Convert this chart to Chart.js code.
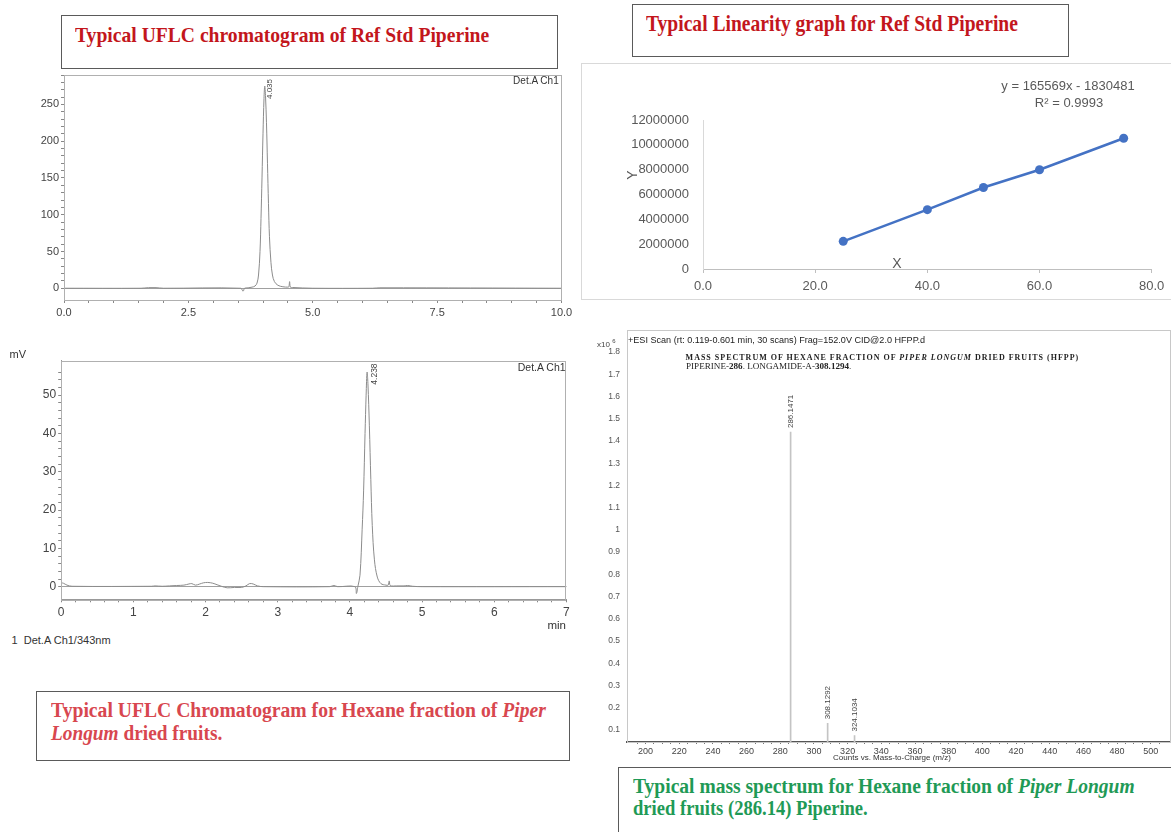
<!DOCTYPE html>
<html>
<head>
<meta charset="utf-8">
<script src="https://cdn.jsdelivr.net/npm/chart.js@4.4.0/dist/chart.umd.min.js"></script>
<style>
body{margin:0;width:1171px;height:832px;position:relative;background:#fff;overflow:hidden;font-family:"Liberation Sans",Arial,sans-serif}
canvas{position:absolute}
.t{position:absolute;white-space:nowrap;transform-origin:0 50%}
.box{position:absolute;box-sizing:border-box;border:1.5px solid #5a5a5a;background:#fff}
.serif{font-family:"Liberation Serif","Times New Roman",serif;font-weight:bold}
</style>
</head>
<body>

<!-- caption boxes -->
<div class="box" style="left:61px;top:15px;width:497px;height:54px"></div>
<div class="t serif" data-w="414" style="left:75px;top:24.5px;font-size:21.5px;line-height:21.5px;color:#c3161c">Typical UFLC chromatogram of Ref Std Piperine</div>

<div class="box" style="left:632px;top:4px;width:437px;height:53px"></div>
<div class="t serif" data-w="372" style="left:645.5px;top:12.9px;font-size:22.5px;line-height:22.5px;color:#c3161c">Typical Linearity graph for Ref Std Piperine</div>

<div class="box" style="left:36px;top:690.5px;width:534px;height:70px"></div>
<div class="t serif" data-w="495" style="left:50.5px;top:700px;font-size:20px;line-height:20px;color:#d8474f">Typical UFLC Chromatogram for Hexane fraction of <i>Piper</i></div>
<div class="t serif" data-w="171" style="left:50.5px;top:722.8px;font-size:20px;line-height:20px;color:#d8474f"><i>Longum</i> dried fruits.</div>

<div class="box" style="left:618px;top:767px;width:570px;height:80px"></div>
<div class="t serif" data-w="502" style="left:632.7px;top:776px;font-size:20px;line-height:20px;color:#1f9a56">Typical mass spectrum for Hexane fraction of <i>Piper Longum</i></div>
<div class="t serif" data-w="235" style="left:632.7px;top:797.8px;font-size:20px;line-height:20px;color:#1f9a56">dried fruits (286.14) Piperine.</div>

<!-- linearity frame -->
<div style="position:absolute;left:581px;top:63px;width:600px;height:237px;border:1px solid #d9d9d9;box-sizing:border-box"></div>

<canvas id="c1" width="572" height="250" style="left:0;top:70px"></canvas>
<canvas id="c2" width="578" height="234" style="left:590px;top:64px"></canvas>
<canvas id="c3" width="576" height="270" style="left:0;top:350px"></canvas>
<canvas id="c4" width="581" height="440" style="left:590px;top:326px"></canvas>

<!-- small texts -->
<div class="t" style="right:612.3px;top:75px;font-size:10px;line-height:12px;color:#333;transform-origin:100% 50%">Det.A Ch1</div>
<div class="t" style="right:605.4px;top:361px;font-size:10.5px;line-height:12px;color:#333;transform-origin:100% 50%">Det.A Ch1</div>
<div class="t" style="left:9.6px;top:348px;font-size:11px;line-height:12px;color:#333">mV</div>
<div class="t" style="right:605px;top:619px;font-size:11.5px;line-height:12px;color:#333;transform-origin:100% 50%">min</div>
<div class="t" style="left:11.5px;top:634px;font-size:11px;line-height:12px;color:#333">1&nbsp;&nbsp;Det.A Ch1/343nm</div>

<div class="t" style="left:1000px;width:136px;text-align:center;top:78px;font-size:13px;line-height:16px;color:#595959">y = 165569x - 1830481</div>
<div class="t" style="left:1000px;width:138px;text-align:center;top:95px;font-size:13px;line-height:16px;color:#595959">R² = 0.9993</div>
<div class="t" style="left:624px;top:167px;width:16px;text-align:center;font-size:14px;line-height:16px;color:#595959;transform:rotate(-90deg);transform-origin:50% 50%">Y</div>
<div class="t" style="left:889px;top:255px;width:16px;text-align:center;font-size:14px;line-height:16px;color:#595959">X</div>

<div class="t" style="left:597px;top:336px;font-size:8px;line-height:10px;color:#444">x10 <sup style="font-size:6px">6</sup></div>
<div class="t" data-w="297" style="left:628px;top:335px;font-size:8.5px;line-height:10px;color:#222">+ESI Scan (rt: 0.119-0.601 min, 30 scans) Frag=152.0V CID@2.0 HFPP.d</div>
<div class="t serif" data-w="394" style="left:685.6px;top:353px;font-size:8px;line-height:10px;color:#222;letter-spacing:1px">MASS SPECTRUM OF HEXANE FRACTION OF <i>PIPER LONGUM</i> DRIED FRUITS (HFPP)</div>
<div class="t" data-w="165" style="left:685.6px;top:362px;font-size:8px;line-height:10px;color:#222;font-family:'Liberation Serif',serif">PIPERINE-<b>286</b>. LONGAMIDE-A-<b>308.1294</b>.</div>
<div class="t" style="left:825px;width:134px;text-align:center;top:753px;font-size:8px;line-height:10px;color:#333">Counts vs. Mass-to-Charge (m/z)</div>

<script>
// ---- chromatogram of Ref Std Piperine (min, mV)
let stdTime = [0, 1.55, 1.7, 1.85, 2.0, 3.55, 3.6, 3.63, 3.7, 3.78, 3.84, 3.88, 3.91, 3.94, 3.96, 3.98, 4.0, 4.02, 4.035, 4.05, 4.07, 4.09, 4.11, 4.13, 4.16, 4.19, 4.23, 4.3, 4.4, 4.5, 4.52, 4.535, 4.55, 4.6, 5.0, 6.2, 6.35, 10];
let stdSignal = [0, 0, 0.8, 0.8, 0, 0, -4, 0, 0.5, 1.5, 3, 7, 18, 50, 95, 150, 210, 258, 275, 262, 225, 170, 115, 70, 35, 18, 9, 4, 2, 1.5, 2, 9, 1.5, 1, 0, 0, 0.6, 0];
let stdPeak = {x: 4.035, y: 275, text: '4.035'};
let stdXLabels = [0, 2.5, 5, 7.5, 10];
let stdYLabels = [0, 50, 100, 150, 200, 250];

// ---- chromatogram of hexane fraction
let hexTime = [0, 0.03, 0.08, 0.15, 1.25, 1.3, 1.4, 1.5, 1.6, 1.7, 1.77, 1.81, 1.86, 1.92, 1.97, 2.03, 2.1, 2.16, 2.22, 2.3, 2.4, 2.5, 2.56, 2.61, 2.66, 2.72, 2.8, 3.72, 3.78, 3.83, 4.07, 4.09, 4.11, 4.14, 4.17, 4.19, 4.21, 4.225, 4.238, 4.25, 4.27, 4.29, 4.31, 4.34, 4.38, 4.43, 4.5, 4.53, 4.545, 4.56, 4.65, 4.75, 4.8, 4.87, 5.0, 7.0];
let hexSignal = [1.0, 0.9, 0.4, 0.1, 0.1, 0.2, 0.1, 0.2, 0.3, 0.4, 0.7, 0.8, 0.4, 0.7, 1.0, 1.1, 0.9, 0.5, 0.1, -0.3, -0.2, -0.2, 0.2, 0.8, 0.7, 0.2, 0, 0, 0.3, 0, 0, -1.8, 0, 3, 15, 25, 40, 50, 56, 53, 42, 28, 16, 7, 2.5, 0.8, 0.4, 0.4, 1.5, 0.3, 0.2, 0.2, 0.3, 0.1, 0, 0];
let hexPeak = {x: 4.238, y: 56, text: '4.238'};
let hexXLabels = [0, 1, 2, 3, 4, 5, 6, 7];
let hexYLabels = [0, 10, 20, 30, 40, 50];

// ---- linearity
let linConc = [25, 40, 50, 60, 75];
let linArea = [2230000, 4780000, 6560000, 7990000, 10530000];

// ---- mass spectrum (counts x10^6)
let mzValues = [286.1471, 308.1292, 324.1034];
let mzCounts = [1.44, 0.13, 0.075];
let mzXLabels = [200, 220, 240, 260, 280, 300, 320, 340, 360, 380, 400, 420, 440, 460, 480, 500];

Chart.defaults.font.family = '"Liberation Sans", Arial, sans-serif';

function near(v, list) {
    return list.some(l => Math.abs(v - l) < 1e-6);
}
function fixAxis(w, h) {
    return function(s) {
        if (w !== null) s.width = w;
        if (h !== null) s.height = h;
        s.paddingLeft = 0; s.paddingRight = 0; s.paddingTop = 0; s.paddingBottom = 0;
    };
}
function keepStep(step) {
    return function(s) {
        s.ticks = s.ticks.filter(t => Math.abs(t.value / step - Math.round(t.value / step)) < 1e-6);
    };
}

// box around the plot area
const frame = {
    id: 'frame',
    afterDraw(chart, args, opts) {
        const a = chart.chartArea, ctx = chart.ctx;
        ctx.save();
        ctx.strokeStyle = opts.color;
        ctx.lineWidth = 1;
        ctx.strokeRect(Math.round(a.left) + 0.5, Math.round(a.top) + 0.5, Math.round(a.width) - 1, Math.round(a.height));
        ctx.restore();
    }
};

// vertical peak labels
const peakLabels = {
    id: 'peakLabels',
    afterDatasetsDraw(chart, args, opts) {
        const ctx = chart.ctx;
        ctx.save();
        ctx.font = opts.font;
        ctx.fillStyle = opts.color;
        ctx.textBaseline = 'middle';
        opts.peaks.forEach(p => {
            let x = chart.scales.x.getPixelForValue(p.x) + opts.dx;
            let y = chart.scales.y.getPixelForValue(p.y) + opts.dy;
            ctx.save();
            ctx.translate(x, y);
            ctx.rotate(-Math.PI / 2);
            ctx.fillText(p.text, 0, 0);
            ctx.restore();
        });
        ctx.restore();
    }
};

function chromatogram(id, times, signal, peak, xLabels, yLabels, o) {
    return new Chart(document.getElementById(id), {
        type: 'line',
        data: {
            datasets: [{
                data: times.map((t, i) => ({x: t, y: signal[i]})),
                borderColor: '#8c8c8c',
                borderWidth: 1,
                pointRadius: 0,
                tension: 0.35
            }]
        },
        plugins: [frame, peakLabels],
        options: {
            responsive: false, animation: false, devicePixelRatio: 1,
            layout: {padding: {top: o.top, right: o.right, left: 0, bottom: 0}},
            plugins: {
                legend: {display: false}, tooltip: {enabled: false},
                frame: {color: '#b0b0b0'},
                peakLabels: {peaks: [peak], font: o.lblFont, color: '#444', dx: o.dx, dy: o.dy}
            },
            scales: {
                x: {
                    type: 'linear', min: o.xmin, max: o.xmax,
                    afterFit: fixAxis(null, o.xh),
                    afterBuildTicks: keepStep(o.xstep),
                    ticks: {stepSize: o.xstep, autoSkip: false, maxRotation: 0, padding: 3, color: '#444', font: {size: o.fs},
                        callback: v => near(v, xLabels) ? o.xfmt(v) : ''},
                    grid: {drawOnChartArea: false, tickLength: 3, color: '#888'},
                    border: {color: '#999'}
                },
                y: {
                    min: o.ymin, max: o.ymax,
                    afterFit: fixAxis(o.yw, null),
                    afterBuildTicks: keepStep(o.ystep),
                    ticks: {stepSize: o.ystep, autoSkip: false, padding: 2, color: '#444', font: {size: o.fs},
                        callback: v => near(v, yLabels) ? String(v) : ''},
                    grid: {
                        color: c => (c.tick && c.tick.value === 0) ? '#a0a0a0' : 'rgba(0,0,0,0)',
                        tickColor: '#888', tickLength: 3
                    },
                    border: {color: '#999'}
                }
            }
        }
    });
}

chromatogram('c1', stdTime, stdSignal, stdPeak, stdXLabels, stdYLabels, {
    top: 5, right: 10.5, xh: 20, yw: 64, xmin: 0, xmax: 10, xstep: 0.5, ymin: -16, ymax: 290, ystep: 10,
    fs: 11, xfmt: v => v.toFixed(1), lblFont: '8px "Liberation Sans"', dx: 5, dy: 13
});
chromatogram('c3', hexTime, hexSignal, hexPeak, hexXLabels, hexYLabels, {
    top: 10.7, right: 9.6, xh: 20.7, yw: 61.2, xmin: 0, xmax: 7, xstep: 0.2, ymin: -3.3, ymax: 59, ystep: 2,
    fs: 12, xfmt: v => String(Math.round(v)), lblFont: '8.5px "Liberation Sans"', dx: 7.5, dy: 12.5
});

// linearity graph
new Chart(document.getElementById('c2'), {
    type: 'scatter',
    data: {
        datasets: [{
            data: linConc.map((c, i) => ({x: c, y: linArea[i]})),
            showLine: true,
            borderColor: '#4472c4',
            backgroundColor: '#4472c4',
            borderWidth: 2.5,
            pointRadius: 4.5,
            pointBorderWidth: 0
        }]
    },
    options: {
        responsive: false, animation: false, devicePixelRatio: 1,
        layout: {padding: {top: 56, right: 16.3, left: 0, bottom: 0}},
        plugins: {legend: {display: false}, tooltip: {enabled: false}},
        scales: {
            x: {
                type: 'linear', min: 0, max: 80,
                afterFit: fixAxis(null, 29),
                ticks: {stepSize: 20, padding: 6, color: '#595959', font: {size: 13}, maxRotation: 0,
                    callback: v => v.toFixed(1)},
                grid: {drawOnChartArea: false, tickLength: 4, color: '#bfbfbf'},
                border: {color: '#bfbfbf'}
            },
            y: {
                min: 0, max: 12000000,
                afterFit: fixAxis(113, null),
                ticks: {stepSize: 2000000, padding: 14, color: '#595959', font: {size: 13},
                    callback: v => String(v)},
                grid: {drawOnChartArea: false, drawTicks: false},
                border: {color: '#d9d9d9'}
            }
        }
    }
});

// mass spectrum
new Chart(document.getElementById('c4'), {
    type: 'bar',
    data: {
        datasets: [{
            data: mzValues.map((m, i) => ({x: m, y: mzCounts[i]})),
            backgroundColor: '#c4c4c4',
            barThickness: 1
        }]
    },
    plugins: [frame, peakLabels],
    options: {
        responsive: false, animation: false, devicePixelRatio: 1,
        layout: {padding: {top: 4, right: 0, left: 0, bottom: 0}},
        plugins: {
            legend: {display: false}, tooltip: {enabled: false},
            frame: {color: '#c8c8c8'},
            peakLabels: {peaks: mzValues.map((m, i) => ({x: m, y: mzCounts[i], text: m.toFixed(4)})),
                font: '8px "Liberation Sans"', color: '#444', dx: 0, dy: -4}
        },
        scales: {
            x: {
                type: 'linear', min: 189, max: 512, offset: false,
                afterFit: fixAxis(null, 24),
                afterBuildTicks: keepStep(5),
                ticks: {stepSize: 5, autoSkip: false, maxRotation: 0, padding: 2, color: '#444', font: {size: 9},
                    callback: v => near(v, mzXLabels) ? String(v) : ''},
                grid: {drawOnChartArea: false, offset: false, tickLength: 2, color: '#777'},
                border: {color: '#555', width: 2}
            },
            y: {
                min: 0.046, max: 1.899,
                afterFit: fixAxis(37, null),
                afterBuildTicks: keepStep(0.1),
                ticks: {stepSize: 0.1, autoSkip: false, padding: 7, color: '#555', font: {size: 8.5},
                    callback: v => String(Number(v.toFixed(1)))},
                grid: {drawOnChartArea: false, drawTicks: false},
                border: {color: '#aaa'}
            }
        }
    }
});

// squeeze caption texts to the widths seen in the figure
document.querySelectorAll('[data-w]').forEach(el => {
    let s = parseFloat(el.dataset.w) / el.scrollWidth;
    el.style.transform = 'scaleX(' + s + ')';
});
</script>
</body>
</html>
